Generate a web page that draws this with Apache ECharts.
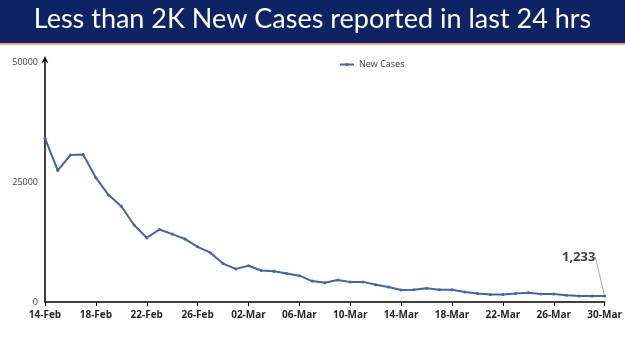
<!DOCTYPE html>
<html>
<head>
<meta charset="utf-8">
<script src="https://cdn.jsdelivr.net/npm/echarts@6/dist/echarts.min.js"></script>
<style>
  html, body { margin: 0; padding: 0; background: #fff; }
  #main { width: 625px; height: 351px; }
</style>
</head>
<body>
<div id="main"></div>
<script>
var days = ['14-Feb','15-Feb','16-Feb','17-Feb','18-Feb','19-Feb','20-Feb','21-Feb','22-Feb','23-Feb',
    '24-Feb','25-Feb','26-Feb','27-Feb','28-Feb','01-Mar','02-Mar','03-Mar','04-Mar','05-Mar',
    '06-Mar','07-Mar','08-Mar','09-Mar','10-Mar','11-Mar','12-Mar','13-Mar','14-Mar','15-Mar',
    '16-Mar','17-Mar','18-Mar','19-Mar','20-Mar','21-Mar','22-Mar','23-Mar','24-Mar','25-Mar',
    '26-Mar','27-Mar','28-Mar','29-Mar','30-Mar'];
var newCases = [34100, 27400, 30600, 30750, 25900, 22270, 19950, 16050, 13400, 15100,
    14150, 13150, 11500, 10270, 8010, 6900, 7550, 6560, 6400, 5920,
    5480, 4360, 3990, 4580, 4180, 4190, 3610, 3120, 2500, 2570,
    2880, 2540, 2530, 2080, 1760, 1550, 1580, 1780, 1940, 1690,
    1660, 1420, 1270, 1260, 1233];
var yTicks = [0, 25000, 50000];
var title = 'Less than 2K New Cases reported in last 24 hrs';
var legendName = 'New Cases';

var chart = echarts.init(document.getElementById('main'));

// last point gets the callout label
var seriesData = newCases.map(function (v, i) {
    if (i === newCases.length - 1) {
        return {
            value: v,
            label: {
                show: true,
                position: 'top',
                formatter: function (p) { return p.value.toLocaleString('en-US'); },
                fontFamily: 'Open Sans',
                fontWeight: 'bold',
                fontSize: 13,
                color: '#404040'
            },
            labelLine: { show: true, lineStyle: { color: '#a6a6a6', width: 1 } }
        };
    }
    return v;
});

chart.setOption({
    animation: false,
    graphic: [
        { type: 'rect', left: 0, top: 0, shape: { width: 625, height: 43 }, style: { fill: '#0d2464' } },
        { type: 'rect', left: 0, top: 43, shape: { width: 625, height: 2 }, style: { fill: '#e8a98a' } },
        {
            type: 'text', left: 'center', top: 6,
            style: { text: title, fill: '#ffffff', font: '27px "Lato", sans-serif' }
        }
    ],
    legend: {
        data: [legendName],
        top: 55,
        left: 334,
        itemWidth: 14,
        itemHeight: 4,
        itemGap: 2,
        textStyle: { fontFamily: 'Open Sans', fontSize: 9, color: '#404040' }
    },
    grid: { left: 45, right: 20, top: 62, bottom: 49 },
    xAxis: {
        type: 'category',
        data: days,
        boundaryGap: false,
        axisLine: { lineStyle: { color: '#000', width: 1.5 } },
        axisTick: { show: true, interval: 3, length: 4, lineStyle: { color: '#000' } },
        axisLabel: {
            interval: 3,
            margin: 8,
            fontFamily: 'Open Sans',
            fontWeight: 'bold',
            fontSize: 10,
            color: '#262626'
        },
        splitLine: { show: false }
    },
    yAxis: {
        type: 'value',
        min: yTicks[0],
        max: yTicks[yTicks.length - 1],
        interval: yTicks[1] - yTicks[0],
        axisLine: {
            show: true,
            symbol: ['none', 'arrow'],
            symbolSize: [5, 7],
            symbolOffset: [0, 6],
            lineStyle: { color: '#000', width: 1.5 }
        },
        axisTick: { show: false },
        axisLabel: {
            formatter: function (v) { return String(v); },
            fontFamily: 'Open Sans', fontSize: 9, color: '#404040', margin: 7
        },
        splitLine: { show: false }
    },
    series: [{
        name: legendName,
        type: 'line',
        data: seriesData,
        symbol: 'circle',
        symbolSize: 3,
        itemStyle: { color: '#4066a8' },
        lineStyle: { color: '#4066a8', width: 2 },
        labelLayout: { dx: -26, dy: -26 }
    }]
});
</script>
</body>
</html>
